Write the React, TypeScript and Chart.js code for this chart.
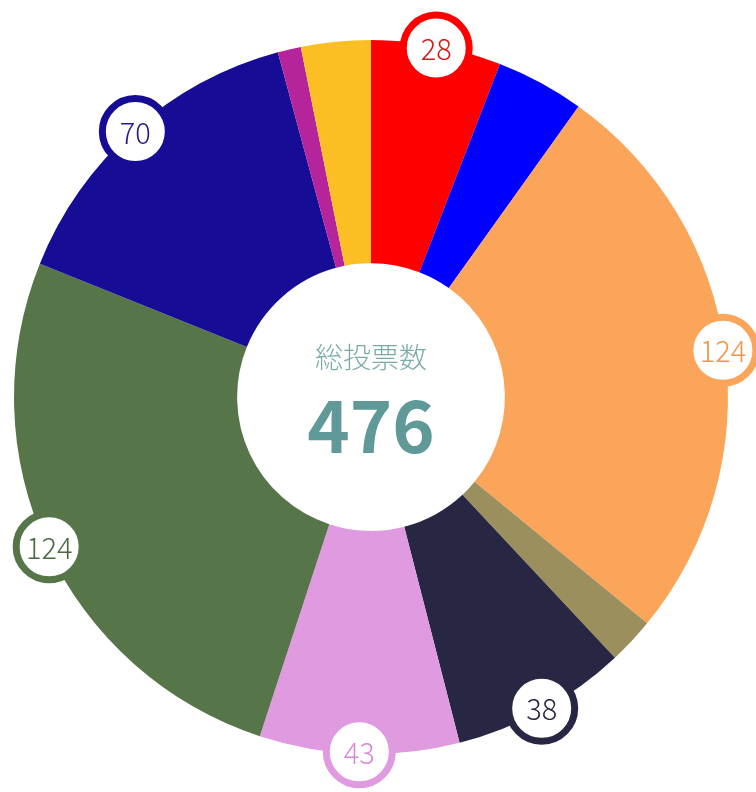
import React, { useEffect, useRef } from "react";
import { Chart, registerables } from "chart.js";

Chart.register(...registerables);

const categories = ["A", "B", "C", "D", "E", "F", "G", "H", "I", "J"];
const votes = [28, 19, 124, 10, 38, 43, 124, 70, 5, 15];
const colors = [
  "#ff0000",
  "#0000ff",
  "#fba55a",
  "#9b8f5e",
  "#272744",
  "#e09ae0",
  "#56764a",
  "#160c96",
  "#b5249a",
  "#fbbf24",
];
const labelTextColors = [
  "#d61a1a",
  "#0000ff",
  "#f0964a",
  "#9b8f5e",
  "#272744",
  "#d88ad8",
  "#4a6a40",
  "#241a8a",
  "#b5249a",
  "#fbbf24",
];
const centerTitle = "総投票数";
const totalVotes = 476;
const labelThreshold = 20;

const FONT = "'Noto Sans CJK JP', 'Noto Sans', sans-serif";

const labelPlugin = {
  id: "bubbleLabels",
  afterDatasetsDraw(chart: any) {
    const ctx = chart.ctx;
    const meta = chart.getDatasetMeta(0);
    meta.data.forEach((arc: any, i: number) => {
      const v = votes[i];
      if (v < labelThreshold) return;
      const p = arc.getProps(["x", "y", "startAngle", "endAngle", "outerRadius"], true);
      const mid = (p.startAngle + p.endAngle) / 2;
      const r = p.outerRadius - 2;
      const cx = p.x + Math.cos(mid) * r;
      const cy = p.y + Math.sin(mid) * r;
      ctx.save();
      ctx.beginPath();
      ctx.arc(cx, cy, 33, 0, Math.PI * 2);
      ctx.fillStyle = "#ffffff";
      ctx.fill();
      ctx.lineWidth = 7;
      ctx.strokeStyle = colors[i];
      ctx.stroke();
      ctx.fillStyle = labelTextColors[i];
      ctx.font = `300 29px ${FONT}`;
      ctx.textAlign = "center";
      ctx.textBaseline = "middle";
      ctx.fillText(String(v), cx, cy + 1);
      ctx.restore();
    });
  },
  afterDraw(chart: any) {
    const ctx = chart.ctx;
    const meta = chart.getDatasetMeta(0);
    const a = meta.data[0];
    if (!a) return;
    const x = a.x;
    const y = a.y;
    ctx.save();
    ctx.textAlign = "center";
    ctx.textBaseline = "middle";
    ctx.fillStyle = "#7aaba8";
    ctx.font = `300 28px ${FONT}`;
    ctx.fillText(centerTitle, x, y - 40);
    ctx.fillStyle = "#5f9a98";
    ctx.font = `bold 72px ${FONT}`;
    ctx.fillText(String(totalVotes), x, y + 29);
    ctx.restore();
  },
};

export default function App() {
  const ref = useRef<HTMLCanvasElement | null>(null);
  useEffect(() => {
    if (!ref.current) return;
    const chart = new Chart(ref.current, {
      type: "doughnut",
      data: {
        labels: categories,
        datasets: [
          {
            data: votes,
            backgroundColor: colors,
            borderWidth: 0,
            hoverOffset: 0,
          },
        ],
      },
      options: {
        responsive: false,
        animation: false,
        cutout: "37.5%",
        layout: { padding: { left: 14, right: 28, top: 40, bottom: 38 } },
        plugins: {
          legend: { display: false },
          tooltip: { enabled: false },
        },
      },
      plugins: [labelPlugin],
    });
    return () => chart.destroy();
  }, []);
  return (
    <div style={{ position: "absolute", left: 0, top: 0, width: 756, height: 792 }}>
      <canvas ref={ref} width={756} height={792} style={{ width: 756, height: 792 }} />
    </div>
  );
}
